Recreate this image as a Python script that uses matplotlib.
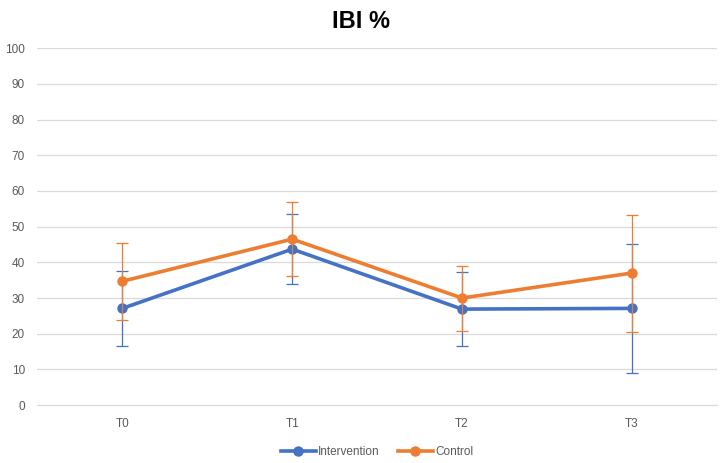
import numpy as np
import matplotlib.pyplot as plt
from matplotlib.lines import Line2D

plt.rcParams['font.family'] = ['Liberation Sans', 'DejaVu Sans']

times = ['T0', 'T1', 'T2', 'T3']
intervention = [27.1, 43.7, 26.9, 27.1]
intervention_err = [10.5, 9.8, 10.4, 18.0]
control = [34.7, 46.5, 30.0, 37.0]
control_err = [10.8, 10.4, 9.1, 16.4]

blue = '#4472c4'
orange = '#ed7d31'

fig = plt.figure(figsize=(7.21, 4.63), dpi=100)
ax = fig.add_axes([0.052, 0.125, 0.942, 0.771])

x = np.arange(len(times))
ax.errorbar(x, intervention, yerr=intervention_err, color=blue, lw=2.6,
            marker='o', ms=6.5, ecolor=blue, elinewidth=0.9, capsize=4,
            capthick=0.9, zorder=3)
ax.errorbar(x, control, yerr=control_err, color=orange, lw=2.6,
            marker='o', ms=6.5, ecolor=orange, elinewidth=0.9, capsize=4,
            capthick=0.9, zorder=4)

ax.set_xlim(-0.5, 3.5)
ax.set_ylim(0, 100)
ax.set_yticks(range(0, 101, 10))
ax.set_xticks(x)
ax.set_xticklabels(times)
ax.grid(axis='y', color='#d9d9d9', lw=0.9)
ax.set_axisbelow(True)
for s in ['top', 'right', 'left']:
    ax.spines[s].set_visible(False)
ax.spines['bottom'].set_color('#d9d9d9')
ax.tick_params(length=0, labelsize=8.5, colors='#595959', pad=9)

fig.suptitle('IBI %', fontsize=17, fontweight='bold', y=0.978)

handles = [Line2D([], [], color=blue, lw=2.6, marker='o', ms=6.5),
           Line2D([], [], color=orange, lw=2.6, marker='o', ms=6.5)]
ax.legend(handles, ['Intervention', 'Control'], loc='upper center',
          bbox_to_anchor=(0.5, -0.085), ncol=2, frameon=False, fontsize=8.5,
          handlelength=3, handletextpad=0.2, columnspacing=1.5,
          labelcolor='#595959')

fig.savefig('out.png', dpi=100)
